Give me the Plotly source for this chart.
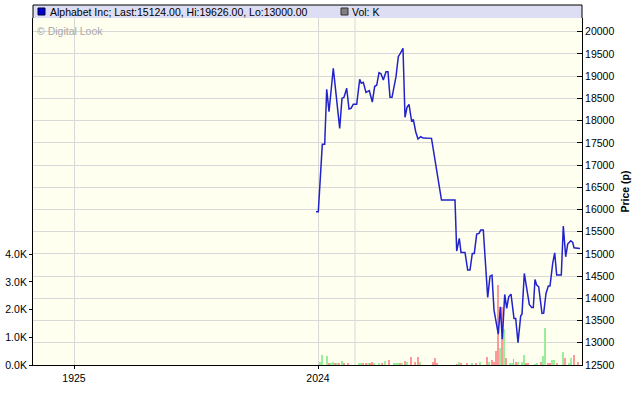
import plotly.graph_objects as go

# ---- data ----
# time axis: trading-day position relative to the "2024" tick
price_t = [-2, 0.3, 4.3, 6.7, 8.7, 11, 15.3, 21.7, 24, 26, 28.7, 31, 33, 35.3, 38.7, 41.7, 43.3, 45.3,
           48, 51.3, 54.3, 56.7, 58.7, 61, 63, 65.3, 68, 70, 72, 74, 78, 80.3, 82, 85, 87, 89, 91,
           93.7, 95.3, 97.7, 100, 102.7, 105.3, 113.5, 123.5, 137, 138.7, 141.3, 143, 147, 149.7, 152,
           154.3, 156.3, 158.7, 161, 162.7, 165.3, 169.7, 172, 174, 176, 180.3, 182.3, 184.3, 186.7,
           188.7, 190.7, 193, 196, 197.7, 200, 202.7, 204, 206.3, 208.7, 211.3, 213.7, 215.3, 217,
           218.7, 220.7, 224, 225.7, 228, 230.3, 232, 234.7, 236.7, 238.7, 243.3, 245.3, 247.7, 249.7,
           252.7, 254.7, 256, 262]
price = [15949, 15949, 17466, 17466, 18705, 18201, 19178, 17827, 18502, 18525, 18728, 18261, 18277,
         18367, 18367, 18930, 18840, 18863, 18637, 18674, 18419, 18773, 18796, 19079, 19056, 18915,
         19102, 19102, 18525, 18525, 18989, 19439, 19500, 19626, 18074, 18300, 18367, 17975, 18030,
         17750, 17586, 17638, 17608, 17601, 16212, 16212, 15064, 15350, 15034, 15034, 14636, 14636,
         15012, 15012, 15447, 15462, 15537, 15537, 14021, 14500, 14523, 13735, 13194, 13810, 13082,
         14088, 13773, 14034, 14095, 13548, 13548, 13000, 13607, 13645, 14561, 14260, 13863, 13795,
         13795, 14426, 14298, 14260, 13660, 13668, 14111, 14276, 14276, 14787, 15025, 14523, 14523,
         15627, 14936, 15221, 15296, 15259, 15138, 15124]

vol_t = [2.3, 4.3, 9.3, 11.3, 13.3, 15.3, 17.3, 19.3, 21.3, 24.3, 26.3, 30.3, 41.3, 43.3, 45.3, 48.3,
         50.3, 52.3, 54.3, 56.3, 61.3, 64.3, 67.3, 71.3, 76.3, 78.3, 80.3, 82.3, 84.3, 87.3, 89.3,
         93.3, 97.3, 100.3, 102.3, 115.3, 117.3, 119.3, 139.3, 141.3, 143.3, 149.3, 154.3, 158.3,
         162.3, 169.3, 171.3, 174.3, 176.3, 178.3, 180.3, 182.3, 184.3, 186.3, 188.3, 192.3, 194.3,
         195.5, 198.3, 200.3, 204.3, 206.3, 208.3, 210.3, 217.3, 219.3, 223.3, 225.3, 227.3, 230.3,
         232.3, 234.3, 236.3, 239.3, 245.3, 247.3, 251.3, 253.3, 256.3, 260]
vol_k = [0.10, 0.35, 0.31, 0.05, 0.07, 0.10, 0.05, 0.06, 0.04, 0.13, 0.04, 0.06, 0.04, 0.06, 0.05,
         0.06, 0.04, 0.06, 0.10, 0.07, 0.04, 0.04, 0.16, 0.17, 0.04, 0.04, 0.06, 0.08, 0.08, 0.16,
         0.10, 0.28, 0.10, 0.28, 0.10, 0.10, 0.24, 0.06, 0.03, 0.12, 0.04, 0.06, 0.04, 0.05, 0.10,
         0.28, 0.11, 0.19, 0.10, 0.50, 2.90, 0.62, 2.10, 1.31, 0.24, 0.06, 0.07, 0.22, 0.11, 0.10,
         0.11, 0.35, 0.06, 0.04, 0.03, 0.06, 0.10, 0.33, 1.34, 0.04, 0.05, 0.17, 0.17, 0.07, 0.46,
         0.25, 0.08, 0.24, 0.35, 0.12]
vol_up = [1, 1, 1, 0, 1, 1, 0, 1, 0, 1, 0, 0, 1, 1, 0, 0, 1, 0, 0, 1, 1, 0, 1, 0, 1, 1, 1, 0, 1, 0,
          1, 0, 0, 0, 1, 0, 0, 0, 0, 1, 0, 0, 1, 0, 1, 0, 1, 0, 0, 0, 0, 1, 0, 1, 0, 1, 1, 0, 0, 1,
          1, 1, 0, 0, 1, 1, 0, 1, 1, 0, 0, 1, 1, 0, 1, 0, 1, 1, 0, 0]

x_tick_vals = [-244, 0]
x_tick_text = ["1925", "2024"]
x_extra_grid = [37]
price_ticks = list(range(12500, 20001, 500))
price_tick_text = [str(v) for v in price_ticks]
vol_ticks = [0, 1, 2, 3, 4]
vol_tick_text = ["0.0K", "1.0K", "2.0K", "3.0K", "4.0K"]

title_text = "Alphabet Inc; Last:15124.00, Hi:19626.00, Lo:13000.00"
vol_label = "Vol: K"

# ---- figure ----
FONT = "Liberation Sans, Arial, sans-serif"
W, H = 640, 401
ML, MR, MT, MB = 33, 58, 18, 36
PW, PH = W - ML - MR, H - MT - MB
GRID = "#D8D8D8"

def px_x(X):
    return (X - ML) / PW

def px_y(Y):
    return (H - MB - Y) / PH

fig = go.Figure()
for gx in x_extra_grid:
    fig.add_vline(x=gx, line=dict(color=GRID, width=1), layer="below")
fig.add_trace(go.Bar(
    x=vol_t, y=vol_k, width=1.0, yaxis="y",
    marker=dict(color=["#99EE99" if u else "#FF9999" for u in vol_up], line=dict(width=0)),
    showlegend=False, hoverinfo="skip"))
fig.add_trace(go.Scatter(
    x=price_t, y=price, yaxis="y2", mode="lines",
    line=dict(color="#2222CC", width=1.5), showlegend=False))

fig.update_layout(
    width=W, height=H,
    margin=dict(l=ML, r=MR, t=MT, b=MB, pad=0, autoexpand=False),
    paper_bgcolor="white", plot_bgcolor="#FFFFEF",
    font=dict(family=FONT, size=10, color="black"),
    bargap=0,
    xaxis=dict(range=[-285, 264], tickvals=x_tick_vals, ticktext=x_tick_text, automargin=False,
               showgrid=True, gridcolor=GRID, gridwidth=1,
               showline=True, linecolor="black", linewidth=1,
               ticks="outside", ticklen=3, tickcolor="black", zeroline=False,
               tickfont=dict(size=10.5)),
    yaxis=dict(range=[0, 12.53], side="left", tickvals=vol_ticks, ticktext=vol_tick_text,
               automargin=False,
               showgrid=False, zeroline=False, showline=True, linecolor="black", linewidth=1,
               ticks="outside", ticklen=3, tickcolor="black", tickfont=dict(size=10.5)),
    yaxis2=dict(range=[12500, 20310], side="right", overlaying="y", tickvals=price_ticks,
                ticktext=price_tick_text, automargin=False,
                showgrid=True, gridcolor=GRID, gridwidth=1, zeroline=False,
                showline=True, linecolor="black", linewidth=1,
                ticks="inside", ticklen=5, tickcolor="black", tickfont=dict(size=10.5),
                title=dict(text="<b>Price (p)</b>", font=dict(size=10.5), standoff=8)),
)

# legend bar
fig.add_shape(type="rect", xref="paper", yref="paper", x0=0, x1=1, y0=1, y1=px_y(5),
              fillcolor="#DDDDF3", line=dict(width=0), layer="above")
for (x0, y0, x1, y1) in [(0, 1, 0, px_y(5)), (0, px_y(5), 1, px_y(5)), (1, px_y(5), 1, 1)]:
    fig.add_shape(type="line", xref="paper", yref="paper", x0=x0, y0=y0, x1=x1, y1=y1,
                  line=dict(color="black", width=1), layer="above")
fig.add_shape(type="rect", xref="paper", yref="paper", x0=px_x(38), x1=px_x(45),
              y0=px_y(15), y1=px_y(8), fillcolor="#0000CC", line=dict(color="#000040", width=1))
fig.add_shape(type="rect", xref="paper", yref="paper", x0=px_x(341), x1=px_x(348),
              y0=px_y(15), y1=px_y(8), fillcolor="#808080", line=dict(color="#303030", width=1))
fig.add_annotation(xref="paper", yref="paper", x=px_x(48), y=px_y(11.5), text=title_text,
                   showarrow=False, xanchor="left", yanchor="middle", font=dict(size=10.5))
fig.add_annotation(xref="paper", yref="paper", x=px_x(350), y=px_y(11.5), text=vol_label,
                   showarrow=False, xanchor="left", yanchor="middle", font=dict(size=10.5))
fig.add_annotation(xref="paper", yref="paper", x=px_x(35), y=px_y(31), text="© Digital Look",
                   showarrow=False, xanchor="left", yanchor="middle",
                   font=dict(size=10.5, color="#A8A8A8"))

fig.write_html("out.html", config={"displayModeBar": False},
               post_script="document.body.style.margin='0';")
